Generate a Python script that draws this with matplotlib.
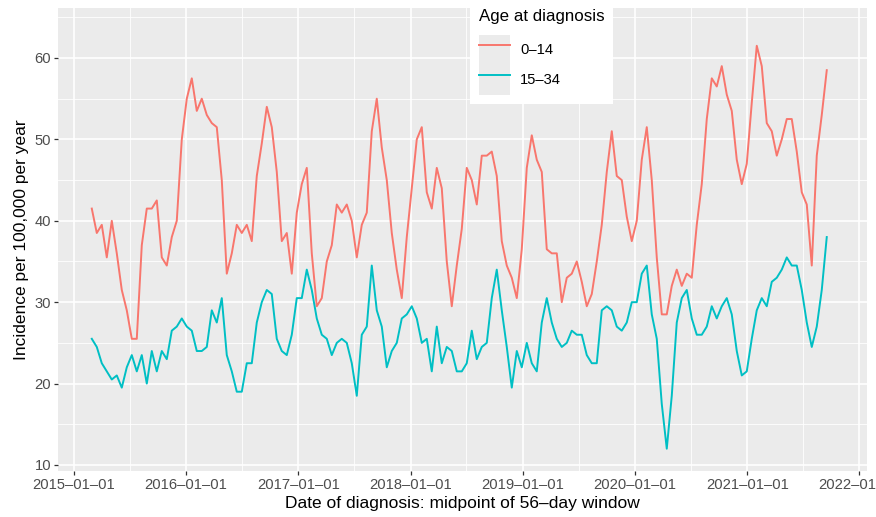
import pandas as pd
import matplotlib
matplotlib.use('Agg')
import matplotlib.pyplot as plt
from matplotlib.legend_handler import HandlerTuple
from matplotlib.patches import Patch

plt.rcParams['font.family'] = ['Liberation Sans', 'DejaVu Sans']

# values, roughly every 16 days
dates = pd.date_range('2015-02-28', '2021-09-17', periods=148)

age_0_14 = [
    41.5, 38.5, 39.5, 35.5, 40, 36, 31.5, 29, 25.5, 25.5, 37, 41.5, 41.5, 42.5, 35.5, 34.5, 38, 40, 50, 55, 57.5, 53.5, 55, 53, 52,
    51.5, 45, 33.5, 36, 39.5, 38.5, 39.5, 37.5, 45.5, 49.5, 54, 51.5, 46, 37.5, 38.5, 33.5, 41, 44.5, 46.5, 36, 29.5, 30.5, 35, 37, 42,
    41, 42, 40, 35.5, 39.5, 41, 51, 55, 49, 45, 38.5, 34, 30.5, 38, 44, 50, 51.5, 43.5, 41.5, 46.5, 44, 35, 29.5, 34.5, 39,
    46.5, 45, 42, 48, 48, 48.5, 45.5, 37.5, 34.5, 33, 30.5, 36.5, 46.5, 50.5, 47.5, 46, 36.5, 36, 36, 30, 33, 33.5, 35, 32.5, 29.5,
    31, 35, 39.5, 46, 51, 45.5, 45, 40.5, 37.5, 40, 47.5, 51.5, 45, 35.5, 28.5, 28.5, 32, 34, 32, 33.5, 33, 39.5, 44.5, 52.5, 57.5,
    56.5, 59, 55.5, 53.5, 47.5, 44.5, 47, 54.5, 61.5, 59, 52, 51, 48, 50, 52.5, 52.5, 48.5, 43.5, 42, 34.5, 48, 53, 58.5,
]
age_15_34 = [
    25.5, 24.5, 22.5, 21.5, 20.5, 21, 19.5, 22, 23.5, 21.5, 23.5, 20, 24, 21.5, 24, 23, 26.5, 27, 28, 27, 26.5, 24, 24, 24.5, 29,
    27.5, 30.5, 23.5, 21.5, 19, 19, 22.5, 22.5, 27.5, 30, 31.5, 31, 25.5, 24, 23.5, 26, 30.5, 30.5, 34, 31.5, 28, 26, 25.5, 23.5, 25,
    25.5, 25, 22.5, 18.5, 26, 27, 34.5, 29, 27, 22, 24, 25, 28, 28.5, 29.5, 28, 25, 25.5, 21.5, 27, 22.5, 24.5, 24, 21.5, 21.5,
    22.5, 26.5, 23, 24.5, 25, 30.5, 34, 29, 24.5, 19.5, 24, 22, 25, 22.5, 21.5, 27.5, 30.5, 27.5, 25.5, 24.5, 25, 26.5, 26, 26, 23.5,
    22.5, 22.5, 29, 29.5, 29, 27, 26.5, 27.5, 30, 30, 33.5, 34.5, 28.5, 25.5, 17.5, 12, 18.5, 27.5, 30.5, 31.5, 28, 26, 26, 27, 29.5,
    28, 29.5, 30.5, 28.5, 24, 21, 21.5, 25.5, 29, 30.5, 29.5, 32.5, 33, 34, 35.5, 34.5, 34.5, 31.5, 27.5, 24.5, 27, 31.5, 38,
]

years = list(range(2015, 2023))
year_ticks = pd.to_datetime([f'{y}-01-01' for y in years])
year_labels = [f'{y}–01–01' for y in years]
mid_ticks = pd.to_datetime([f'{y}-07-02' for y in years[:-1]])
y_ticks = [10, 20, 30, 40, 50, 60]
y_minor = [15, 25, 35, 45, 55, 65]

fig = plt.figure(figsize=(8.76, 5.17), dpi=100)
ax = fig.add_axes([58 / 876, 1 - 471 / 517, 809 / 876, 463 / 517])
ax.set_facecolor('#EBEBEB')

l1, = ax.plot(dates, age_0_14, color='#F8766D', lw=1.4)
l2, = ax.plot(dates, age_15_34, color='#00BFC4', lw=1.4)

ax.set_xticks(year_ticks)
ax.set_xticklabels(year_labels)
ax.set_xticks(mid_ticks, minor=True)
ax.set_yticks(y_ticks)
ax.set_yticks(y_minor, minor=True)
ax.grid(which='major', color='white', lw=1.2)
ax.grid(which='minor', color='white', lw=0.6)
ax.set_axisbelow(True)
for s in ax.spines.values():
    s.set_visible(False)
ax.tick_params(which='major', length=3, width=0.9, color='#333333',
               labelcolor='#4D4D4D', labelsize=10.6, pad=2)
ax.tick_params(which='minor', length=0)

ax.set_xlim(pd.Timestamp('2014-11-10'), pd.Timestamp('2022-01-26'))
ax.set_ylim(9.26, 66.14)
ax.set_xlabel('Date of diagnosis: midpoint of 56–day window', fontsize=12.5, labelpad=3)
ax.set_ylabel('Incidence per 100,000 per year', fontsize=12.5, labelpad=4)

# legend keys: grey square with the line on top, like ggplot
key_bg = Patch(facecolor='#EBEBEB', edgecolor='none')
leg = ax.legend([(key_bg, l1), (key_bg, l2)], ['0–14', '15–34'],
                handler_map={tuple: HandlerTuple(ndivide=1, pad=0)},
                title='Age at diagnosis', loc='upper left',
                bbox_to_anchor=(470 / 876, 1.0), bbox_transform=fig.transFigure,
                borderaxespad=0, fontsize=10.6, title_fontsize=12.2,
                handlelength=2.15, handleheight=2.76, labelspacing=0.0,
                handletextpad=0.65, borderpad=0.6, fancybox=False,
                framealpha=1, edgecolor='none', facecolor='white')
leg._legend_box.align = 'left'
leg._legend_box.sep = 8  # gap between title and keys

fig.savefig('out.png', dpi=100)
